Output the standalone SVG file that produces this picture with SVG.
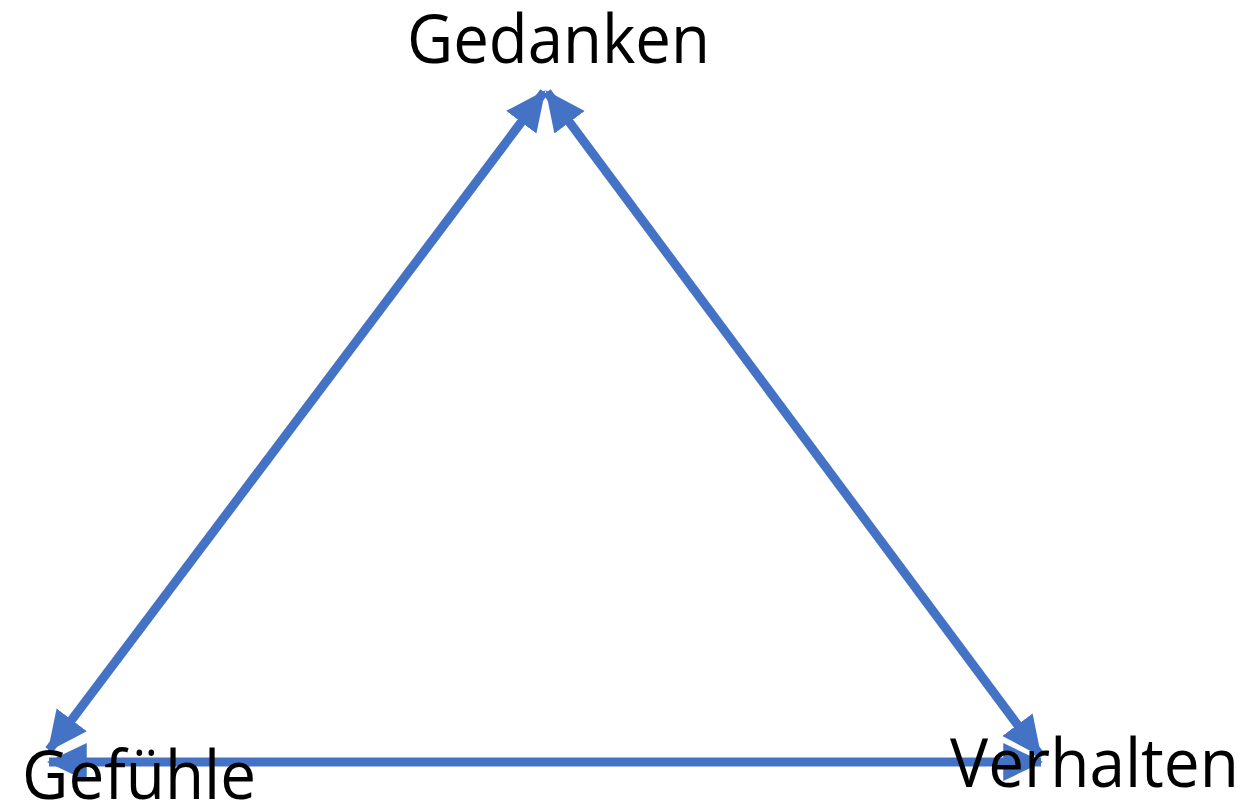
<svg xmlns="http://www.w3.org/2000/svg" width="1248" height="805" viewBox="0 0 1248 805">
<style>
.lbl{font-family:"Open Sans","Noto Sans","Liberation Sans",sans-serif;font-size:68px;fill:#000}
.conn{stroke:#4472C4;stroke-width:9;fill:none}
</style>
<defs>
<marker id="ah" markerUnits="userSpaceOnUse" markerWidth="40" markerHeight="40" viewBox="0 0 36 34" refX="34" refY="17" orient="auto-start-reverse">
<path d="M0,0 L36,17 L0,34 Z" fill="#4472C4"/>
</marker>
</defs>
<rect width="1248" height="805" fill="#fff"/>
<g id="connectors">
<line class="conn" x1="49" y1="750" x2="544" y2="92" marker-start="url(#ah)" marker-end="url(#ah)"/>
<line class="conn" x1="547" y1="92" x2="1040" y2="755" marker-start="url(#ah)" marker-end="url(#ah)"/>
<line class="conn" x1="49" y1="762" x2="1041" y2="762" marker-start="url(#ah)" marker-end="url(#ah)"/>
</g>
<g id="gedanken"><text class="lbl" x="407" y="63" textLength="303" lengthAdjust="spacingAndGlyphs">Gedanken</text></g>
<g id="gefuehle"><text class="lbl" x="22" y="799" textLength="234" lengthAdjust="spacingAndGlyphs">Gefühle</text></g>
<g id="verhalten"><text class="lbl" x="950" y="787" textLength="289" lengthAdjust="spacingAndGlyphs">Verhalten</text></g>
</svg>
